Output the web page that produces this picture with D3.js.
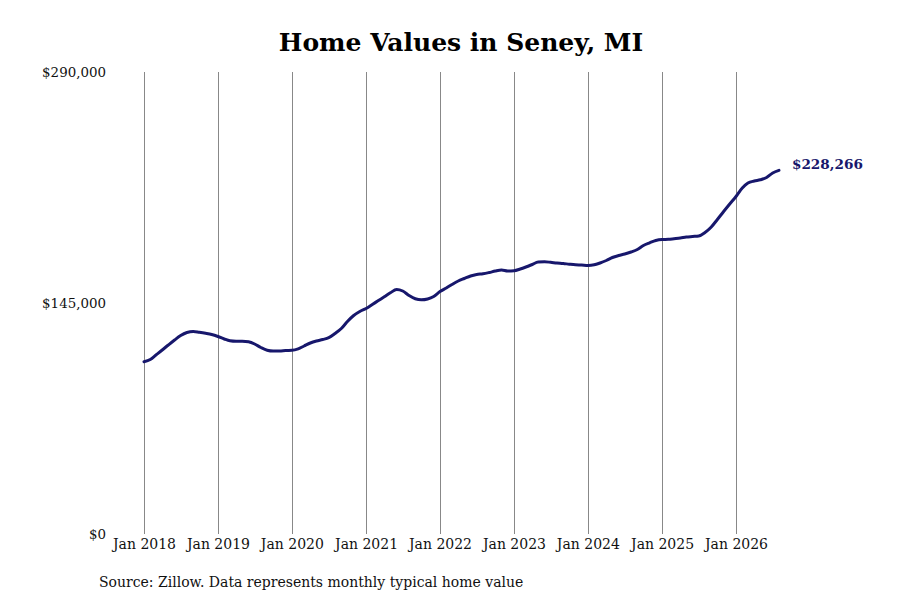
<!DOCTYPE html>
<html>
<head>
<meta charset="utf-8">
<script src="https://cdn.jsdelivr.net/npm/d3@7"></script>
<style>
  html, body { margin: 0; padding: 0; background: #fff; }
  svg { display: block; }
  text { font-family: "DejaVu Serif", serif; }
</style>
</head>
<body>
<svg id="chart" width="900" height="600"></svg>
<script>
const title = "Home Values in Seney, MI";
const sourceText = "Source: Zillow. Data represents monthly typical home value";
const startMonth = "2018-01";
const yTicks = [0, 145000, 290000];
const xTickYears = [2018, 2019, 2020, 2021, 2022, 2023, 2024, 2025, 2026];
const values = [
  108155, 109535, 112360, 115500, 118637, 121776, 124600, 126484, 127111, 126609, 125982, 125228,
  123973, 122403, 121274, 120960, 121022, 120646, 119265, 117068, 115373, 114871, 114871, 115185,
  115310, 116252, 118009, 119893, 121148, 122090, 123220, 125856, 128995, 133388, 137155, 139665,
  141549, 144059, 146382, 148893, 151404, 153475, 152534, 149709, 147638, 147011, 147512, 149081,
  152157, 154417, 156614, 158811, 160380, 161949, 162891, 163330, 164146, 165088, 165715, 165088,
  165276, 166343, 167599, 169168, 170737, 170863, 170549, 170109, 169796, 169356, 168980, 168854,
  168603, 168980, 170109, 171679, 173562, 174817, 175759, 177014, 178584, 181095, 182789, 184233,
  184861, 184986, 185363, 185802, 186430, 186744, 187058, 189255, 192707, 197415, 202436, 207144,
  211852, 217188, 220326, 221581, 222335, 223779, 226604, 228266
];

const [sy, sm] = startMonth.split("-").map(Number);
const data = values.map((v, i) => ({ date: new Date(sy, sm - 1 + i, 1), value: v }));

const svg = d3.select("#chart");
const x = d3.scaleTime()
  .domain([new Date(2018, 0, 1), new Date(2026, 0, 1)])
  .range([144, 736]);
const y = d3.scaleLinear().domain([0, 290000]).range([534, 72]);

// vertical gridlines
const xTicks = xTickYears.map(yr => new Date(yr, 0, 1));
svg.append("g").selectAll("line").data(xTicks).join("line")
  .attr("x1", d => Math.round(x(d)) + 0.5).attr("x2", d => Math.round(x(d)) + 0.5)
  .attr("y1", y(290000)).attr("y2", y(0))
  .attr("stroke", "#888").attr("stroke-width", 1);

// x axis labels
const xAxis = d3.axisBottom(x).tickValues(xTicks).tickFormat(d3.timeFormat("%b %Y")).tickSize(0).tickPadding(5);
const gx = svg.append("g").attr("transform", `translate(0,${y(0)})`).call(xAxis);
gx.select(".domain").remove();
gx.selectAll("text").attr("font-family", "DejaVu Serif, serif").attr("font-size", 14).attr("fill", "#111");

// y axis labels
const fmt = d => "$" + d3.format(",")(d);
const yAxis = d3.axisLeft(y).tickValues(yTicks).tickFormat(fmt).tickSize(0).tickPadding(0);
const gy = svg.append("g").attr("transform", "translate(106,0)").call(yAxis);
gy.select(".domain").remove();
gy.selectAll("text").attr("font-family", "DejaVu Serif, serif").attr("font-size", 13.4).attr("fill", "#111");

// line
const line = d3.line().x(d => x(d.date)).y(d => y(d.value)).curve(d3.curveMonotoneX);
svg.append("path").datum(data)
  .attr("d", line)
  .attr("fill", "none")
  .attr("stroke", "#17176c")
  .attr("stroke-width", 3)
  .attr("stroke-linecap", "round")
  .attr("stroke-linejoin", "round");

// end label
const last = data[data.length - 1];
svg.append("text")
  .attr("x", x(last.date) + 13)
  .attr("y", y(last.value) - 5)
  .attr("dominant-baseline", "middle")
  .attr("font-size", 13.6)
  .attr("font-weight", "bold")
  .attr("fill", "#17176c")
  .text(fmt(last.value));

// title
svg.append("text")
  .attr("x", 461).attr("y", 51)
  .attr("text-anchor", "middle")
  .attr("font-size", 25)
  .attr("font-weight", "bold")
  .attr("fill", "#000")
  .text(title);

// source
svg.append("text")
  .attr("x", 99).attr("y", 587)
  .attr("font-size", 14)
  .attr("fill", "#111")
  .text(sourceText);
</script>
</body>
</html>
